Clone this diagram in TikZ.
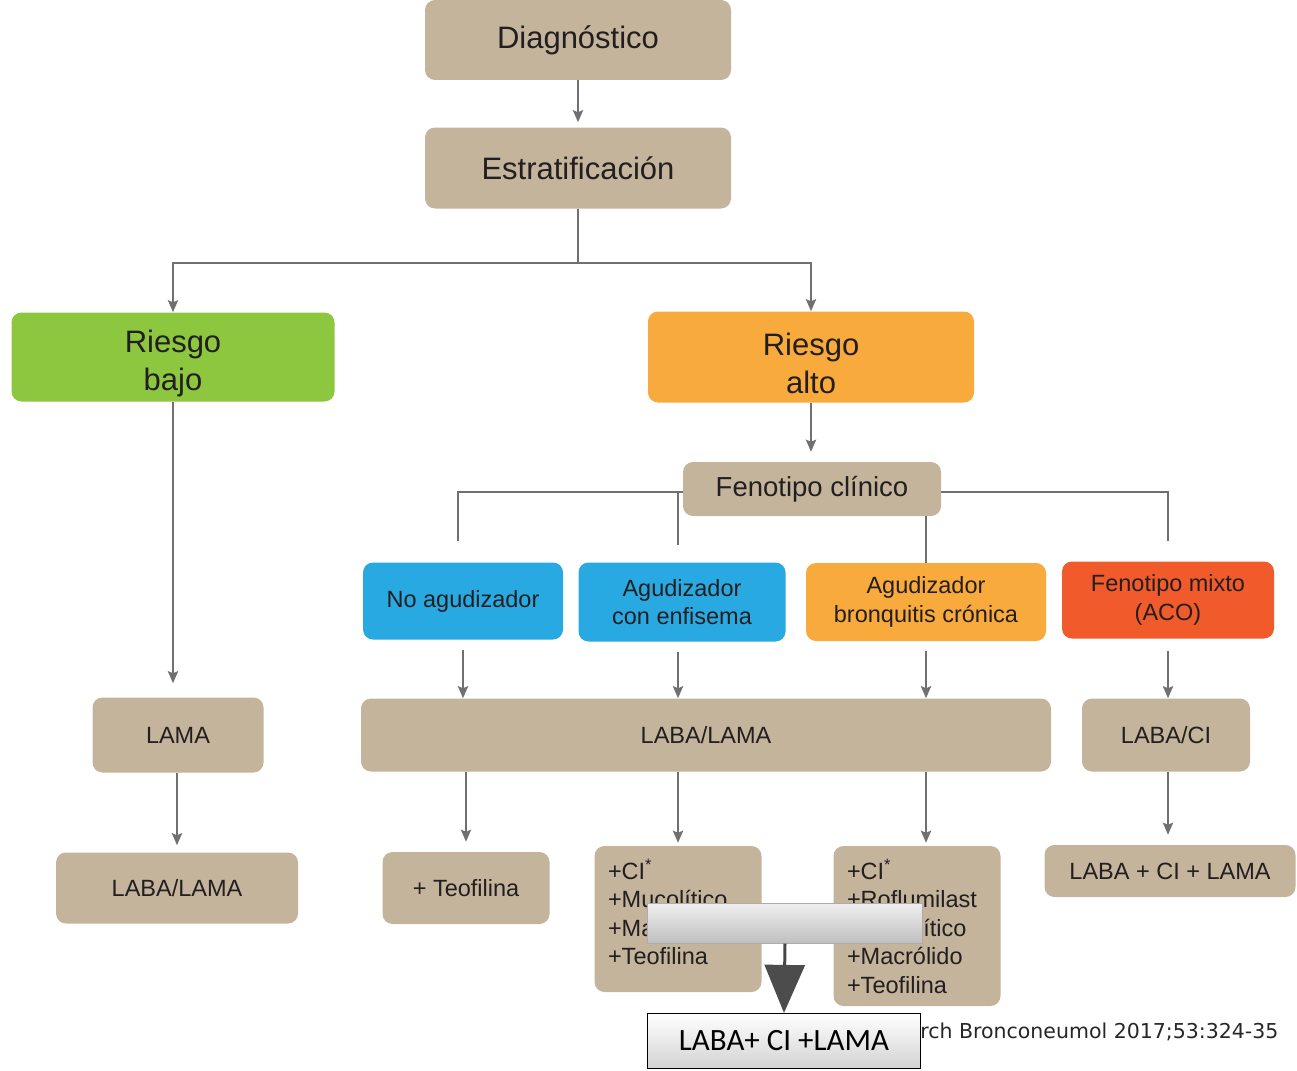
\documentclass[tikz,border=0pt]{standalone}
\usepackage{fontspec}
\setmainfont{Liberation Sans}
\newfontfamily\boxfont{Carlito}
\newfontfamily\citefont{DejaVu Sans}
\usetikzlibrary{arrows.meta, positioning}
\definecolor{copdTan}{HTML}{C3B49B}
\definecolor{copdLine}{HTML}{707070}
\definecolor{copdGreen}{HTML}{8DC63F}
\definecolor{copdAmber}{HTML}{F9AA3C}
\definecolor{copdBlue}{HTML}{29A9E1}
\definecolor{copdRed}{HTML}{F15A2A}
\definecolor{copdText}{HTML}{231F20}
\newcommand{\bigtxt}{\fontsize{31}{38}\selectfont}
\newcommand{\midtxt}{\fontsize{27.5}{33}\selectfont}
\newcommand{\smalltxt}{\fontsize{23.5}{28.5}\selectfont}
\tikzset{
  copdfig/.style={
    x=1pt, y=-1pt,
    every node/.append style={text=copdText},
    >={Stealth[length=12pt, width=10pt, inset=2pt]},
  },
  basebox/.style={
    fill=copdTan, rounded corners=10pt, align=center, inner sep=0pt,
    font=\smalltxt,
  },
  riskbox/.style={basebox, font=\bigtxt},
  greenbox/.style={riskbox, fill=copdGreen},
  amberbox/.style={riskbox, fill=copdAmber},
  phenobox/.style={basebox, fill=copdBlue},
  listbox/.style={basebox, align=left, text width=140pt},
  link/.style={draw=copdLine, line width=2.6pt},
  flow/.style={link, ->},
  % recuadro gris superpuesto
  barbox/.style={
    top color=gray!12, bottom color=gray!50, draw=gray!65, line width=1pt,
    minimum width=275pt, minimum height=40pt, inner sep=0pt,
  },
  targetbox/.style={
    top color=white, bottom color=gray!35, draw=black, line width=1.2pt,
    minimum width=273pt, minimum height=55pt, inner sep=0pt,
    font=\boxfont\fontsize{31}{36}\selectfont, text=black,
  },
  bigflow/.style={
    draw=gray!55!black, line width=3pt,
    -{Triangle[length=48pt, width=40pt, color=black!70]},
  },
}

\begin{document}
\begin{tikzpicture}[copdfig]
  \useasboundingbox (0,0) rectangle (1297,1070);
  \node[riskbox, minimum width=306pt, minimum height=80pt] (diag) at (578,40) {Diagnóstico};
  \node[riskbox, minimum width=306pt, minimum height=81pt] (estrat) at (578,168) {Estratificación};
  \node[greenbox, minimum width=323pt, minimum height=89pt] (bajo) at (173,357) {\rule{0pt}{36pt}Riesgo\\bajo};
  \node[amberbox, minimum width=326pt, minimum height=91pt] (alto) at (811,357) {\rule{0pt}{36pt}Riesgo\\alto};
  \node[basebox, font=\midtxt, minimum width=258pt, minimum height=54pt] (feno) at (812,489) {Fenotipo clínico};
  \node[phenobox, minimum width=200pt, minimum height=77pt] (noag) at (463,601) {No agudizador};
  \node[phenobox, minimum width=207pt, minimum height=79pt] (enfis) at (682,602) {Agudizador\\con enfisema};
  \node[basebox, fill=copdAmber, minimum width=240pt, minimum height=78pt] (bronq) at (926,602) {Agudizador\\bronquitis crónica};
  \node[basebox, fill=copdRed, minimum width=212pt, minimum height=77pt] (mixto) at (1168,600) {Fenotipo mixto\\(ACO)};
  \node[basebox, minimum width=171pt, minimum height=75pt] (lama) at (178,735) {LAMA};
  \node[basebox, minimum width=690pt, minimum height=73pt] (labalama) at (706,735) {LABA/LAMA};
  \node[basebox, minimum width=168pt, minimum height=73pt] (labaci) at (1166,735) {LABA/CI};
  \node[basebox, minimum width=242pt, minimum height=71pt] (labalama2) at (177,888) {LABA/LAMA};
  \node[basebox, minimum width=167pt, minimum height=72pt] (teof) at (466,888) {+ Teofilina};
  \node[listbox, minimum width=167pt, minimum height=146pt] (ciA) at (678,919) {+CI\textsuperscript{*}\\+Mucolítico\\+Macrólido\\+Teofilina\rule[-14pt]{0pt}{14pt}};
  \node[listbox, minimum width=167pt, minimum height=160pt] (ciB) at (917,926) {+CI\textsuperscript{*}\\+Roflumilast\\+Mucolítico\\+Macrólido\\+Teofilina};
  \node[basebox, minimum width=251pt, minimum height=52pt] (triple) at (1170,871) {LABA + CI + LAMA};
  \coordinate (split) at (578,263);
  \coordinate (noagTop) at (458,541);
  \coordinate (enfisTop) at (678,545);
  \coordinate (mixtoTop) at (1168,541);
  \draw[flow, shorten >=5pt] (diag) -- (estrat);
  \draw[link] (estrat) -- (split);
  \draw[flow] (split) -| (bajo.north);
  \draw[flow] (split) -| (alto.north);
  \draw[flow, shorten >=10pt] (alto.south) -- (alto.south |- feno.north);
  \draw[link] ([yshift=-3pt]feno.west) -| (noagTop);
  \draw[link] ([yshift=-3pt]feno.east) -| (mixtoTop);
  \draw[link] ([yshift=-3pt]enfisTop |- feno.west) -- (enfisTop);
  \draw[link] (feno.south -| bronq.north) -- (bronq.north);
  \draw[flow, shorten <=10pt] (noag.south) -- (noag.south |- labalama.north);
  \draw[flow, shorten <=10pt] (enfis.south -| enfisTop) -- (enfisTop |- labalama.north);
  \draw[flow, shorten <=10pt] (bronq.south) -- (bronq.south |- labalama.north);
  \draw[flow, shorten <=12pt] (mixto.south) -- (mixto.south |- labaci.north);
  \draw[flow, shorten >=14pt] (bajo.south) -- (bajo.south |- lama.north);
  \draw[flow, shorten >=7pt] (lama.south -| labalama2.north) -- (labalama2.north);
  \draw[flow, shorten >=10pt] (teof.north |- labalama.south) -- (teof.north);
  \draw[flow, shorten >=3pt] (enfisTop |- labalama.south) -- (enfisTop |- ciA.north);
  \draw[flow, shorten >=3pt] (bronq.south |- labalama.south) -- (bronq.south |- ciB.north);
  \draw[flow, shorten >=10pt] (labaci.south -| mixtoTop) -- (mixtoTop |- triple.north);
  \node[anchor=east, font=\citefont\fontsize{20.5}{24}\selectfont, text=black!85] (cite) at (1282,1032) {Arch Bronconeumol 2017;53:324-35};
  \node[barbox] (overlay) at (785,923) {};
  \node[targetbox] (target) at (784,1041) {LABA+ CI +LAMA};
  \draw[bigflow] (overlay.south) -- (target.north);
\end{tikzpicture}
\end{document}
